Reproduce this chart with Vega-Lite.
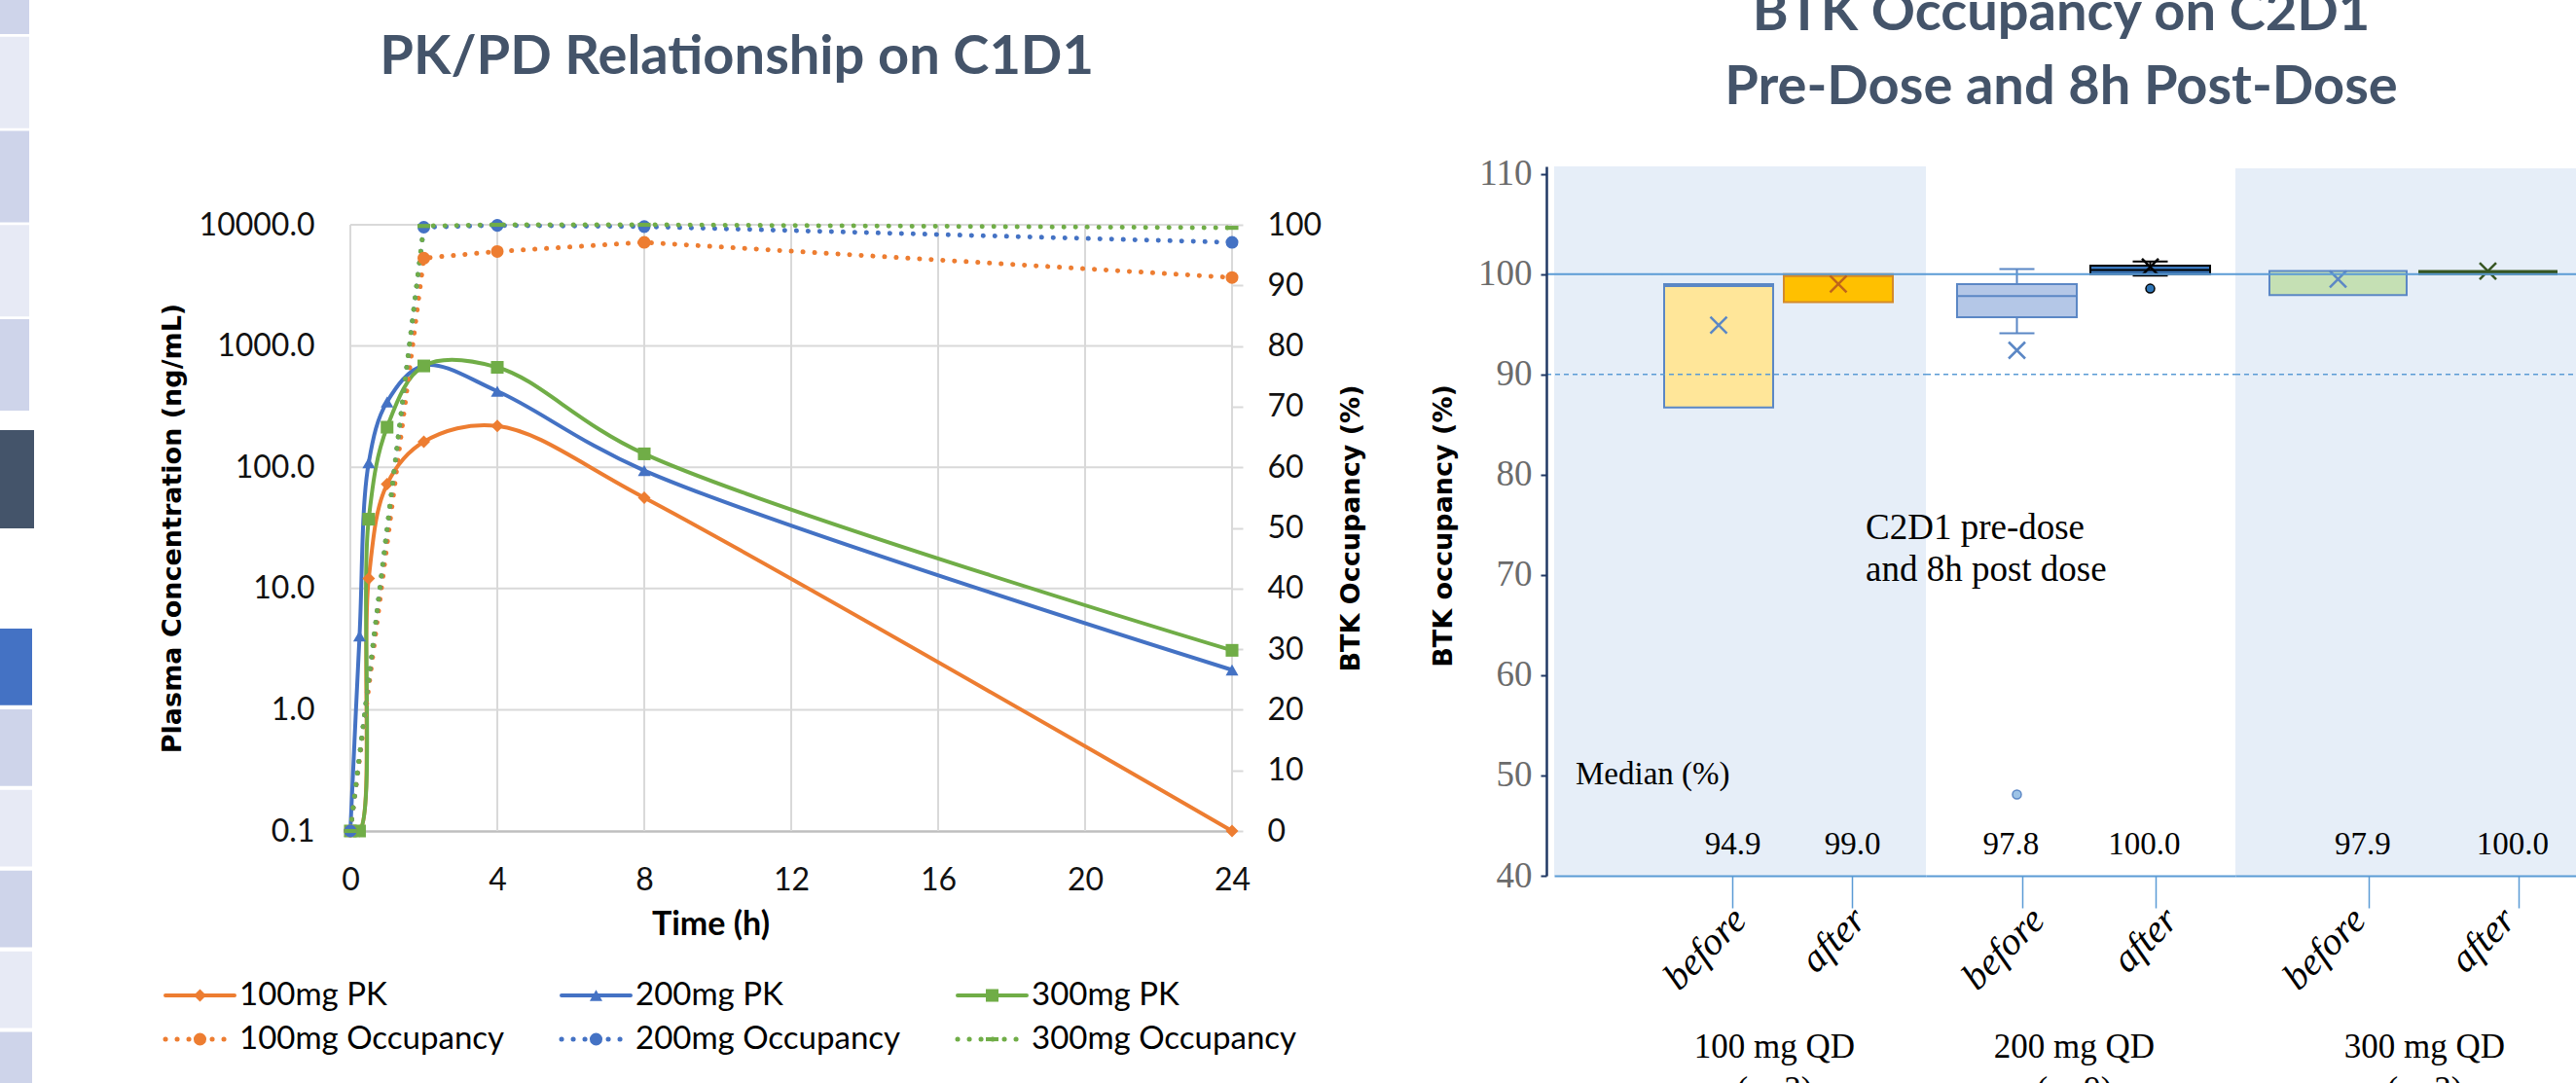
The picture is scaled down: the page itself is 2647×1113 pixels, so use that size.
{
  "$schema": "https://vega.github.io/schema/vega-lite/v6.json",
  "width": 2647,
  "height": 1113,
  "autosize": {"type": "none"},
  "padding": 0,
  "background": "#ffffff",
  "config": {"view": {"stroke": null}, "axis": {"grid": false}},
  "datasets": {
    "pk": [
      {"series": "100mg PK", "dose": "100mg", "t": 0, "conc": 0.1},
      {"series": "100mg PK", "dose": "100mg", "t": 0.25, "conc": 0.1},
      {"series": "100mg PK", "dose": "100mg", "t": 0.5, "conc": 12.1},
      {"series": "100mg PK", "dose": "100mg", "t": 1, "conc": 72.6},
      {"series": "100mg PK", "dose": "100mg", "t": 2, "conc": 162},
      {"series": "100mg PK", "dose": "100mg", "t": 4, "conc": 219},
      {"series": "100mg PK", "dose": "100mg", "t": 8, "conc": 56.1},
      {"series": "100mg PK", "dose": "100mg", "t": 24, "conc": 0.1},
      {"series": "200mg PK", "dose": "200mg", "t": 0, "conc": 0.1},
      {"series": "200mg PK", "dose": "200mg", "t": 0.25, "conc": 4.06},
      {"series": "200mg PK", "dose": "200mg", "t": 0.5, "conc": 109},
      {"series": "200mg PK", "dose": "200mg", "t": 1, "conc": 346},
      {"series": "200mg PK", "dose": "200mg", "t": 2, "conc": 690},
      {"series": "200mg PK", "dose": "200mg", "t": 4, "conc": 424},
      {"series": "200mg PK", "dose": "200mg", "t": 8, "conc": 94},
      {"series": "200mg PK", "dose": "200mg", "t": 24, "conc": 2.13},
      {"series": "300mg PK", "dose": "300mg", "t": 0, "conc": 0.1},
      {"series": "300mg PK", "dose": "300mg", "t": 0.25, "conc": 0.1},
      {"series": "300mg PK", "dose": "300mg", "t": 0.5, "conc": 37.3},
      {"series": "300mg PK", "dose": "300mg", "t": 1, "conc": 214},
      {"series": "300mg PK", "dose": "300mg", "t": 2, "conc": 685},
      {"series": "300mg PK", "dose": "300mg", "t": 4, "conc": 667},
      {"series": "300mg PK", "dose": "300mg", "t": 8, "conc": 129},
      {"series": "300mg PK", "dose": "300mg", "t": 24, "conc": 3.09}
    ],
    "occ": [
      {"series": "100mg Occupancy", "dose": "100mg", "t": 0, "occ": 0},
      {"series": "100mg Occupancy", "dose": "100mg", "t": 2, "occ": 94.5},
      {"series": "100mg Occupancy", "dose": "100mg", "t": 4, "occ": 95.6},
      {"series": "100mg Occupancy", "dose": "100mg", "t": 8, "occ": 97.1},
      {"series": "100mg Occupancy", "dose": "100mg", "t": 24, "occ": 91.3},
      {"series": "200mg Occupancy", "dose": "200mg", "t": 0, "occ": 0},
      {"series": "200mg Occupancy", "dose": "200mg", "t": 2, "occ": 99.6},
      {"series": "200mg Occupancy", "dose": "200mg", "t": 4, "occ": 99.9},
      {"series": "200mg Occupancy", "dose": "200mg", "t": 8, "occ": 99.7},
      {"series": "200mg Occupancy", "dose": "200mg", "t": 24, "occ": 97.1},
      {"series": "300mg Occupancy", "dose": "300mg", "t": 0, "occ": 0},
      {"series": "300mg Occupancy", "dose": "300mg", "t": 2, "occ": 99.8},
      {"series": "300mg Occupancy", "dose": "300mg", "t": 4, "occ": 100},
      {"series": "300mg Occupancy", "dose": "300mg", "t": 8, "occ": 100},
      {"series": "300mg Occupancy", "dose": "300mg", "t": 24, "occ": 99.5}
    ],
    "series": [
      {"series": "100mg PK", "dose": "100mg", "kind": "PK"},
      {"series": "200mg PK", "dose": "200mg", "kind": "PK"},
      {"series": "300mg PK", "dose": "300mg", "kind": "PK"},
      {"series": "100mg Occupancy", "dose": "100mg", "kind": "Occupancy"},
      {"series": "200mg Occupancy", "dose": "200mg", "kind": "Occupancy"},
      {"series": "300mg Occupancy", "dose": "300mg", "kind": "Occupancy"}
    ],
    "boxes": [
      {"dose": "100 mg QD", "when": "before", "q1": 86.7, "q3": 99.0, "midline": 98.8, "mean": 94.9, "median": 94.9, "lo": null, "hi": null, "outlier": null},
      {"dose": "100 mg QD", "when": "after", "q1": 97.2, "q3": 100.0, "midline": 99.8, "mean": 99.0, "median": 99.0, "lo": null, "hi": null, "outlier": null},
      {"dose": "200 mg QD", "when": "before", "q1": 95.7, "q3": 99.0, "midline": 97.8, "mean": 92.4, "median": 97.8, "lo": 94.1, "hi": 100.5, "outlier": 48.1},
      {"dose": "200 mg QD", "when": "after", "q1": 100.0, "q3": 100.85, "midline": 100.4, "mean": 100.7, "median": 100.0, "lo": 99.85, "hi": 101.25, "outlier": 98.55},
      {"dose": "300 mg QD", "when": "before", "q1": 97.9, "q3": 100.3, "midline": null, "mean": 99.5, "median": 97.9, "lo": null, "hi": null, "outlier": null},
      {"dose": "300 mg QD", "when": "after", "q1": 100.0, "q3": 100.3, "midline": null, "mean": 100.3, "median": 100.0, "lo": null, "hi": null, "outlier": null}
    ]
  },
  "layer": [
    {
      "data": {"values": [{"slide": 1}, {"slide": 2}, {"slide": 3}, {"slide": 4}, {"slide": 5}]},
      "mark": {"type": "rect"},
      "encoding": {
        "x": {"datum": "thumbnail", "type": "nominal", "scale": {"type": "band", "domain": ["thumbnail"], "range": [0, 30], "paddingInner": 0, "paddingOuter": 0}, "axis": null},
        "y": {"field": "slide", "type": "ordinal", "scale": {"type": "band", "domain": [1, 2, 3, 4, 5], "range": [-59, 422], "paddingInner": 0.03, "paddingOuter": 0}, "axis": null},
        "fill": {"condition": {"test": "datum.slide % 2 === 1", "value": "#CED4EA"}, "value": "#E7EAF5"}
      }
    },
    {
      "data": {"values": [{"slide": 6}]},
      "mark": {"type": "rect", "color": "#44546A"},
      "encoding": {
        "x": {"datum": "thumbnail", "type": "nominal", "scale": {"type": "band", "domain": ["thumbnail"], "range": [0, 35], "paddingInner": 0, "paddingOuter": 0}, "axis": null},
        "y": {"field": "slide", "type": "ordinal", "scale": {"type": "band", "domain": [6], "range": [442, 543], "paddingInner": 0, "paddingOuter": 0}, "axis": null}
      }
    },
    {
      "data": {"values": [{"slide": 7}, {"slide": 8}, {"slide": 9}, {"slide": 10}, {"slide": 11}, {"slide": 12}]},
      "mark": {"type": "rect"},
      "encoding": {
        "x": {"datum": "thumbnail", "type": "nominal", "scale": {"type": "band", "domain": ["thumbnail"], "range": [0, 33], "paddingInner": 0, "paddingOuter": 0}, "axis": null},
        "y": {"field": "slide", "type": "ordinal", "scale": {"type": "band", "domain": [7, 8, 9, 10, 11, 12], "range": [646, 1139.3], "paddingInner": 0.05, "paddingOuter": 0}, "axis": null},
        "fill": {"condition": [{"test": "datum.slide === 7", "value": "#4472C4"}, {"test": "datum.slide % 2 === 0", "value": "#CED4EA"}], "value": "#E7EAF5"}
      }
    },
    {
      "data": {"values": [{"v": 1}, {"v": 10}, {"v": 100}, {"v": 1000}, {"v": 10000}]},
      "mark": {"type": "rule", "color": "#D9D9D9", "strokeWidth": 2},
      "encoding": {
        "x": {"datum": 0, "type": "quantitative", "scale": {"domain": [0, 24], "range": [360, 1266], "nice": false, "zero": false},
          "axis": {"orient": "bottom", "offset": -259, "values": [0, 4, 8, 12, 16, 20, 24], "domain": true, "domainColor": "#BFBFBF", "domainWidth": 2.5, "ticks": false, "tickSize": 0, "labelPadding": 35, "labelFont": "Lato", "labelFontSize": 32, "labelColor": "#111111", "labelFlush": false, "labelOverlap": false, "labelBound": false, "grid": false, "title": "Time (h)", "titleFont": "Lato", "titleFontWeight": "bold", "titleFontSize": 34, "titleColor": "#000000", "titleX": 730, "titleY": 96, "titleAlign": "center", "titleBaseline": "middle"}},
        "x2": {"datum": 24},
        "y": {"field": "v", "type": "quantitative", "scale": {"type": "log", "domain": [0.1, 10000], "range": [854, 231], "nice": false},
          "axis": {"orient": "left", "offset": -360, "values": [0.1, 1, 10, 100, 1000, 10000], "format": ".1f", "domain": false, "ticks": false, "tickSize": 0, "grid": false, "labelPadding": 37, "labelFont": "Lato", "labelFontSize": 32, "labelColor": "#111111", "labelFlush": false, "labelOverlap": false, "labelBound": false, "title": "Plasma Concentration (ng/mL)", "titleFont": "DejaVu Sans", "titleFontWeight": "bold", "titleFontSize": 27, "titleColor": "#000000", "titleX": -183, "titleY": 542.5, "titleAngle": -90, "titleAlign": "center", "titleBaseline": "middle"}}
      }
    },
    {
      "data": {"values": [{"t": 0}, {"t": 4}, {"t": 8}, {"t": 12}, {"t": 16}, {"t": 20}, {"t": 24}]},
      "mark": {"type": "rule", "color": "#D9D9D9", "strokeWidth": 2},
      "encoding": {
        "x": {"field": "t", "type": "quantitative", "scale": {"domain": [0, 24], "range": [360, 1266], "nice": false, "zero": false}, "axis": null},
        "y": {"datum": 0.1, "type": "quantitative", "scale": {"type": "log", "domain": [0.1, 10000], "range": [854, 231], "nice": false}, "axis": null},
        "y2": {"datum": 10000}
      }
    },
    {
      "data": {"name": "pk"},
      "mark": {"type": "line", "interpolate": "catmull-rom", "strokeWidth": 4, "strokeJoin": "round"},
      "encoding": {
        "x": {"field": "t", "type": "quantitative", "scale": {"domain": [0, 24], "range": [360, 1266], "nice": false, "zero": false}, "axis": null},
        "y": {"field": "conc", "type": "quantitative", "scale": {"type": "log", "domain": [0.1, 10000], "range": [854, 231], "nice": false}, "axis": null},
        "color": {"field": "dose", "type": "nominal", "scale": {"domain": ["100mg", "200mg", "300mg"], "range": ["#ED7D31", "#4472C4", "#70AD47"]}, "legend": null}
      }
    },
    {
      "data": {"name": "pk"},
      "mark": {"type": "point", "filled": true, "opacity": 1},
      "encoding": {
        "x": {"field": "t", "type": "quantitative", "scale": {"domain": [0, 24], "range": [360, 1266], "nice": false, "zero": false}, "axis": null},
        "y": {"field": "conc", "type": "quantitative", "scale": {"type": "log", "domain": [0.1, 10000], "range": [854, 231], "nice": false}, "axis": null},
        "color": {"field": "dose", "type": "nominal", "scale": {"domain": ["100mg", "200mg", "300mg"], "range": ["#ED7D31", "#4472C4", "#70AD47"]}, "legend": null},
        "shape": {"field": "series", "type": "nominal", "scale": {"domain": ["100mg PK", "200mg PK", "300mg PK", "100mg Occupancy", "200mg Occupancy", "300mg Occupancy"], "range": ["diamond", "triangle-up", "square", "circle", "circle", "M-1,-0.32H1V0.32H-1Z"]}, "legend": null},
        "size": {"field": "series", "type": "nominal", "scale": {"domain": ["100mg PK", "200mg PK", "300mg PK", "100mg Occupancy", "200mg Occupancy", "300mg Occupancy"], "range": [170, 170, 170, 324, 169, 144]}, "legend": null}
      }
    },
    {
      "data": {"values": [{}]},
      "mark": {"type": "text", "text": "PK/PD Relationship on C1D1", "font": "Lato", "fontWeight": "bold", "fontSize": 56, "color": "#44546A", "align": "center", "baseline": "alphabetic"},
      "encoding": {
        "x": {"datum": 10.52, "type": "quantitative", "scale": {"domain": [0, 24], "range": [360, 1266], "nice": false, "zero": false}, "axis": null},
        "y": {"datum": 173800, "type": "quantitative", "scale": {"type": "log", "domain": [0.1, 10000], "range": [854, 231], "nice": false}, "axis": null}
      }
    },
    {
      "data": {"name": "occ"},
      "mark": {"type": "line", "interpolate": "linear", "strokeWidth": 5, "strokeDash": [0.1, 11.9], "strokeCap": "round", "strokeJoin": "round"},
      "encoding": {
        "x": {"field": "t", "type": "quantitative", "scale": {"domain": [0, 24], "range": [360, 1266], "nice": false, "zero": false}, "axis": null},
        "y": {"field": "occ", "type": "quantitative", "scale": {"domain": [0, 100], "range": [854, 231], "nice": false, "zero": false},
          "axis": {"orient": "right", "offset": -1381, "values": [0, 10, 20, 30, 40, 50, 60, 70, 80, 90, 100], "domain": false, "ticks": true, "tickSize": 11, "tickColor": "#D9D9D9", "tickWidth": 2, "labelPadding": 25, "labelFont": "Lato", "labelFontSize": 32, "labelColor": "#111111", "labelFlush": false, "labelOverlap": false, "labelBound": false, "grid": false, "title": "BTK Occupancy (%)", "titleFont": "DejaVu Sans", "titleFontWeight": "bold", "titleFontSize": 27, "titleColor": "#000000", "titleX": 122, "titleY": 542.5, "titleAngle": -90, "titleAlign": "center", "titleBaseline": "middle"}},
        "color": {"field": "dose", "type": "nominal", "scale": {"domain": ["100mg", "200mg", "300mg"], "range": ["#ED7D31", "#4472C4", "#70AD47"]}, "legend": null}
      }
    },
    {
      "data": {"name": "occ"},
      "mark": {"type": "point", "filled": true, "opacity": 1},
      "encoding": {
        "x": {"field": "t", "type": "quantitative", "scale": {"domain": [0, 24], "range": [360, 1266], "nice": false, "zero": false}, "axis": null},
        "y": {"field": "occ", "type": "quantitative", "scale": {"domain": [0, 100], "range": [854, 231], "nice": false, "zero": false}, "axis": null},
        "color": {"field": "dose", "type": "nominal", "scale": {"domain": ["100mg", "200mg", "300mg"], "range": ["#ED7D31", "#4472C4", "#70AD47"]}, "legend": null},
        "shape": {"field": "series", "type": "nominal", "scale": {"domain": ["100mg PK", "200mg PK", "300mg PK", "100mg Occupancy", "200mg Occupancy", "300mg Occupancy"], "range": ["diamond", "triangle-up", "square", "circle", "circle", "M-1,-0.32H1V0.32H-1Z"]}, "legend": null},
        "size": {"field": "series", "type": "nominal", "scale": {"domain": ["100mg PK", "200mg PK", "300mg PK", "100mg Occupancy", "200mg Occupancy", "300mg Occupancy"], "range": [170, 170, 170, 324, 169, 144]}, "legend": null}
      }
    },
    {
      "data": {"name": "series"},
      "mark": {"type": "rule", "x2Offset": 71, "strokeCap": "round"},
      "encoding": {
        "x": {"field": "dose", "type": "nominal", "scale": {"type": "point", "domain": ["100mg", "200mg", "300mg"], "range": [170, 984], "padding": 0}, "axis": null},
        "x2": {"field": "dose"},
        "y": {"field": "kind", "type": "nominal", "scale": {"type": "point", "domain": ["PK", "Occupancy"], "range": [1023, 1068], "padding": 0}, "axis": null},
        "color": {"field": "dose", "type": "nominal", "scale": {"domain": ["100mg", "200mg", "300mg"], "range": ["#ED7D31", "#4472C4", "#70AD47"]}, "legend": null},
        "strokeWidth": {"condition": {"test": "datum.kind === 'Occupancy'", "value": 5}, "value": 4},
        "strokeDash": {"condition": {"test": "datum.kind === 'Occupancy'", "value": [0.1, 11.9]}, "value": [1, 0]}
      }
    },
    {
      "data": {"name": "series"},
      "mark": {"type": "point", "filled": true, "opacity": 1, "xOffset": 35.5},
      "encoding": {
        "x": {"field": "dose", "type": "nominal", "scale": {"type": "point", "domain": ["100mg", "200mg", "300mg"], "range": [170, 984], "padding": 0}, "axis": null},
        "y": {"field": "kind", "type": "nominal", "scale": {"type": "point", "domain": ["PK", "Occupancy"], "range": [1023, 1068], "padding": 0}, "axis": null},
        "color": {"field": "dose", "type": "nominal", "scale": {"domain": ["100mg", "200mg", "300mg"], "range": ["#ED7D31", "#4472C4", "#70AD47"]}, "legend": null},
        "shape": {"field": "series", "type": "nominal", "scale": {"domain": ["100mg PK", "200mg PK", "300mg PK", "100mg Occupancy", "200mg Occupancy", "300mg Occupancy"], "range": ["diamond", "triangle-up", "square", "circle", "circle", "M-1,-0.32H1V0.32H-1Z"]}, "legend": null},
        "size": {"field": "series", "type": "nominal", "scale": {"domain": ["100mg PK", "200mg PK", "300mg PK", "100mg Occupancy", "200mg Occupancy", "300mg Occupancy"], "range": [170, 170, 170, 324, 169, 144]}, "legend": null}
      }
    },
    {
      "data": {"name": "series"},
      "mark": {"type": "text", "align": "left", "baseline": "middle", "dx": 76, "font": "Lato", "fontSize": 33, "color": "#000000"},
      "encoding": {
        "x": {"field": "dose", "type": "nominal", "scale": {"type": "point", "domain": ["100mg", "200mg", "300mg"], "range": [170, 984], "padding": 0}, "axis": null},
        "y": {"field": "kind", "type": "nominal", "scale": {"type": "point", "domain": ["PK", "Occupancy"], "range": [1023, 1068], "padding": 0}, "axis": null},
        "text": {"field": "series", "type": "nominal"}
      }
    },
    {
      "data": {"values": [{}]},
      "mark": {"type": "rect", "color": "#E6EEF8"},
      "encoding": {
        "x": {"datum": "before", "type": "nominal", "bandPosition": -1.0089,
          "scale": {"type": "band", "domain": ["before", "after"], "range": [1597, 1979], "paddingInner": 0.0894, "paddingOuter": 0.5976, "align": 0.7687},
          "axis": {"orient": "bottom", "offset": -213, "zindex": 1, "bandPosition": 0.63, "domainColor": "#5B9BD5", "domainWidth": 2, "tickColor": "#5B9BD5", "tickSize": 33, "tickWidth": 1.5, "labelAngle": -45, "labelAlign": "right", "labelBaseline": "middle", "labelPadding": 6, "labelOffset": 22, "labelFont": "Liberation Serif", "labelFontStyle": "italic", "labelFontSize": 40, "labelColor": "#000000", "labelOverlap": false, "labelBound": false, "title": ["100 mg QD", "(n=3)"], "titleFont": "Liberation Serif", "titleFontWeight": "normal", "titleFontSize": 35, "titleColor": "#000000", "titleX": 1823, "titleY": 186, "titleAlign": "center", "titleBaseline": "alphabetic", "titleLineHeight": 44}},
        "x2": {"datum": "after", "bandPosition": 1.3036},
        "y": {"datum": 40, "type": "quantitative", "scale": {"domain": [40, 110.74], "range": [900, 171], "nice": false, "zero": false},
          "axis": {"orient": "left", "offset": -1589, "zindex": 1, "values": [40, 50, 60, 70, 80, 90, 100, 110], "domainColor": "#203864", "domainWidth": 2.5, "tickColor": "#203864", "tickSize": 6, "tickWidth": 2, "labelFont": "Liberation Serif", "labelFontSize": 37, "labelColor": "#6B6B6B", "labelPadding": 9, "labelFlush": false, "labelOverlap": false, "labelBound": false, "grid": false, "title": "BTK occupancy (%)", "titleFont": "DejaVu Sans", "titleFontWeight": "bold", "titleFontSize": 27, "titleColor": "#000000", "titleX": -106, "titleY": 540, "titleAngle": -90, "titleAlign": "center", "titleBaseline": "middle"}},
        "y2": {"datum": 110.74}
      }
    },
    {
      "data": {"values": [{}]},
      "mark": {"type": "rect", "color": "#E6EEF8"},
      "encoding": {
        "x": {"datum": "before", "type": "nominal", "bandPosition": -0.2482,
          "scale": {"type": "band", "domain": ["before", "after"], "range": [2297, 2647], "paddingInner": 0.0844, "paddingOuter": 0.1786, "align": 0.636},
          "axis": {"orient": "bottom", "offset": -213, "zindex": 1, "bandPosition": 0.73, "domainColor": "#5B9BD5", "domainWidth": 2, "tickColor": "#5B9BD5", "tickSize": 33, "tickWidth": 1.5, "labelAngle": -45, "labelAlign": "right", "labelBaseline": "middle", "labelPadding": 6, "labelOffset": 22, "labelFont": "Liberation Serif", "labelFontStyle": "italic", "labelFontSize": 40, "labelColor": "#000000", "labelOverlap": false, "labelBound": false, "title": ["300 mg QD", "(n=3)"], "titleFont": "Liberation Serif", "titleFontWeight": "normal", "titleFontSize": 35, "titleColor": "#000000", "titleX": 2491, "titleY": 186, "titleAlign": "center", "titleBaseline": "alphabetic", "titleLineHeight": 44}},
        "x2": {"datum": "after", "bandPosition": 1.3},
        "y": {"datum": 40, "type": "quantitative", "scale": {"domain": [40, 110.74], "range": [900, 171], "nice": false, "zero": false}, "axis": null},
        "y2": {"datum": 110.55}
      }
    },
    {
      "data": {"name": "boxes"},
      "transform": [{"filter": "datum.dose === '200 mg QD' && datum.lo != null"}],
      "mark": {"type": "rule", "strokeWidth": 2},
      "encoding": {
        "x": {"field": "when", "type": "nominal",
          "scale": {"type": "band", "domain": ["before", "after"], "range": [1979, 2297], "paddingInner": 0.1022, "paddingOuter": 0.2117, "align": 0.5517},
          "axis": {"orient": "bottom", "offset": -213, "zindex": 1, "bandPosition": 0.55, "domainColor": "#5B9BD5", "domainWidth": 2, "tickColor": "#5B9BD5", "tickSize": 33, "tickWidth": 1.5, "labelAngle": -45, "labelAlign": "right", "labelBaseline": "middle", "labelPadding": 6, "labelOffset": 22, "labelFont": "Liberation Serif", "labelFontStyle": "italic", "labelFontSize": 40, "labelColor": "#000000", "labelOverlap": false, "labelBound": false, "title": ["200 mg QD", "(n=9)"], "titleFont": "Liberation Serif", "titleFontWeight": "normal", "titleFontSize": 35, "titleColor": "#000000", "titleX": 2131, "titleY": 186, "titleAlign": "center", "titleBaseline": "alphabetic", "titleLineHeight": 44}},
        "y": {"field": "lo", "type": "quantitative", "scale": {"domain": [40, 110.74], "range": [900, 171], "nice": false, "zero": false}, "axis": null},
        "y2": {"field": "hi"},
        "stroke": {"condition": {"test": "datum.when === 'before'", "value": "#5B87C5"}, "value": "#000000"}
      }
    },
    {
      "data": {"name": "boxes"},
      "transform": [{"filter": "datum.dose === '100 mg QD'"}],
      "mark": {"type": "rect", "strokeWidth": 2},
      "encoding": {
        "x": {"field": "when", "type": "nominal", "scale": {"type": "band", "domain": ["before", "after"], "range": [1597, 1979], "paddingInner": 0.0894, "paddingOuter": 0.5976, "align": 0.7687}, "axis": null},
        "y": {"field": "q1", "type": "quantitative", "scale": {"domain": [40, 110.74], "range": [900, 171], "nice": false, "zero": false}, "axis": null},
        "y2": {"field": "q3"},
        "fill": {"condition": {"test": "datum.when === 'before'", "value": "#FFE699"}, "value": "#FFC000"},
        "stroke": {"condition": {"test": "datum.when === 'before'", "value": "#5B87C5"}, "value": "#D48A2A"}
      }
    },
    {
      "data": {"name": "boxes"},
      "transform": [{"filter": "datum.dose === '200 mg QD'"}],
      "mark": {"type": "rect", "strokeWidth": 2},
      "encoding": {
        "x": {"field": "when", "type": "nominal", "scale": {"type": "band", "domain": ["before", "after"], "range": [1979, 2297], "paddingInner": 0.1022, "paddingOuter": 0.2117, "align": 0.5517}, "axis": null},
        "y": {"field": "q1", "type": "quantitative", "scale": {"domain": [40, 110.74], "range": [900, 171], "nice": false, "zero": false}, "axis": null},
        "y2": {"field": "q3"},
        "fill": {"condition": {"test": "datum.when === 'before'", "value": "#B4C7E7"}, "value": "#3A78BE"},
        "stroke": {"condition": {"test": "datum.when === 'before'", "value": "#5B87C5"}, "value": "#000000"}
      }
    },
    {
      "data": {"name": "boxes"},
      "transform": [{"filter": "datum.dose === '300 mg QD'"}],
      "mark": {"type": "rect", "strokeWidth": 2},
      "encoding": {
        "x": {"field": "when", "type": "nominal", "scale": {"type": "band", "domain": ["before", "after"], "range": [2297, 2647], "paddingInner": 0.0844, "paddingOuter": 0.1786, "align": 0.636}, "axis": null},
        "y": {"field": "q1", "type": "quantitative", "scale": {"domain": [40, 110.74], "range": [900, 171], "nice": false, "zero": false}, "axis": null},
        "y2": {"field": "q3"},
        "fill": {"condition": {"test": "datum.when === 'before'", "value": "#C5E0B4"}, "value": "#375623"},
        "stroke": {"condition": {"test": "datum.when === 'before'", "value": "#5B87C5"}, "value": "#375623"}
      }
    },
    {
      "data": {"name": "boxes"},
      "transform": [{"filter": "datum.dose === '100 mg QD' && datum.midline != null"}],
      "mark": {"type": "tick", "size": 112, "thickness": 2, "opacity": 1},
      "encoding": {
        "x": {"field": "when", "type": "nominal", "scale": {"type": "band", "domain": ["before", "after"], "range": [1597, 1979], "paddingInner": 0.0894, "paddingOuter": 0.5976, "align": 0.7687}, "axis": null},
        "y": {"field": "midline", "type": "quantitative", "scale": {"domain": [40, 110.74], "range": [900, 171], "nice": false, "zero": false}, "axis": null},
        "color": {"condition": {"test": "datum.when === 'before'", "value": "#5B87C5"}, "value": "#D48A2A"}
      }
    },
    {
      "data": {"name": "boxes"},
      "transform": [{"filter": "datum.dose === '200 mg QD' && datum.midline != null"}],
      "mark": {"type": "tick", "size": 123, "thickness": 2, "opacity": 1},
      "encoding": {
        "x": {"field": "when", "type": "nominal", "scale": {"type": "band", "domain": ["before", "after"], "range": [1979, 2297], "paddingInner": 0.1022, "paddingOuter": 0.2117, "align": 0.5517}, "axis": null},
        "y": {"field": "midline", "type": "quantitative", "scale": {"domain": [40, 110.74], "range": [900, 171], "nice": false, "zero": false}, "axis": null},
        "color": {"condition": {"test": "datum.when === 'before'", "value": "#5B87C5"}, "value": "#000000"}
      }
    },
    {
      "data": {"name": "boxes"},
      "transform": [{"filter": "datum.dose === '200 mg QD' && datum.lo != null"}],
      "mark": {"type": "tick", "size": 36, "thickness": 2, "opacity": 1},
      "encoding": {
        "x": {"field": "when", "type": "nominal", "scale": {"type": "band", "domain": ["before", "after"], "range": [1979, 2297], "paddingInner": 0.1022, "paddingOuter": 0.2117, "align": 0.5517}, "axis": null},
        "y": {"field": "lo", "type": "quantitative", "scale": {"domain": [40, 110.74], "range": [900, 171], "nice": false, "zero": false}, "axis": null},
        "color": {"condition": {"test": "datum.when === 'before'", "value": "#5B87C5"}, "value": "#000000"}
      }
    },
    {
      "data": {"name": "boxes"},
      "transform": [{"filter": "datum.dose === '200 mg QD' && datum.hi != null"}],
      "mark": {"type": "tick", "size": 36, "thickness": 2, "opacity": 1},
      "encoding": {
        "x": {"field": "when", "type": "nominal", "scale": {"type": "band", "domain": ["before", "after"], "range": [1979, 2297], "paddingInner": 0.1022, "paddingOuter": 0.2117, "align": 0.5517}, "axis": null},
        "y": {"field": "hi", "type": "quantitative", "scale": {"domain": [40, 110.74], "range": [900, 171], "nice": false, "zero": false}, "axis": null},
        "color": {"condition": {"test": "datum.when === 'before'", "value": "#5B87C5"}, "value": "#000000"}
      }
    },
    {
      "data": {"name": "boxes"},
      "transform": [{"filter": "datum.dose === '100 mg QD'"}],
      "mark": {"type": "point", "shape": "M-1,-1L1,1M-1,1L1,-1", "filled": false, "size": 289, "strokeWidth": 2.5, "opacity": 1},
      "encoding": {
        "x": {"field": "when", "type": "nominal", "scale": {"type": "band", "domain": ["before", "after"], "range": [1597, 1979], "paddingInner": 0.0894, "paddingOuter": 0.5976, "align": 0.7687}, "axis": null},
        "y": {"field": "mean", "type": "quantitative", "scale": {"domain": [40, 110.74], "range": [900, 171], "nice": false, "zero": false}, "axis": null},
        "stroke": {"condition": {"test": "datum.when === 'before'", "value": "#5B87C5"}, "value": "#C0651A"}
      }
    },
    {
      "data": {"name": "boxes"},
      "transform": [{"filter": "datum.dose === '200 mg QD'"}],
      "mark": {"type": "point", "shape": "M-1,-1L1,1M-1,1L1,-1", "filled": false, "size": 289, "strokeWidth": 2.5, "opacity": 1},
      "encoding": {
        "x": {"field": "when", "type": "nominal", "scale": {"type": "band", "domain": ["before", "after"], "range": [1979, 2297], "paddingInner": 0.1022, "paddingOuter": 0.2117, "align": 0.5517}, "axis": null},
        "y": {"field": "mean", "type": "quantitative", "scale": {"domain": [40, 110.74], "range": [900, 171], "nice": false, "zero": false}, "axis": null},
        "stroke": {"condition": {"test": "datum.when === 'before'", "value": "#5B87C5"}, "value": "#000000"}
      }
    },
    {
      "data": {"name": "boxes"},
      "transform": [{"filter": "datum.dose === '300 mg QD'"}],
      "mark": {"type": "point", "shape": "M-1,-1L1,1M-1,1L1,-1", "filled": false, "size": 289, "strokeWidth": 2.5, "opacity": 1},
      "encoding": {
        "x": {"field": "when", "type": "nominal", "scale": {"type": "band", "domain": ["before", "after"], "range": [2297, 2647], "paddingInner": 0.0844, "paddingOuter": 0.1786, "align": 0.636}, "axis": null},
        "y": {"field": "mean", "type": "quantitative", "scale": {"domain": [40, 110.74], "range": [900, 171], "nice": false, "zero": false}, "axis": null},
        "stroke": {"condition": {"test": "datum.when === 'before'", "value": "#5B87C5"}, "value": "#375623"}
      }
    },
    {
      "data": {"name": "boxes"},
      "transform": [{"filter": "datum.dose === '200 mg QD' && datum.outlier != null"}],
      "mark": {"type": "point", "shape": "circle", "filled": true, "size": 81, "strokeWidth": 1.5, "opacity": 1},
      "encoding": {
        "x": {"field": "when", "type": "nominal", "scale": {"type": "band", "domain": ["before", "after"], "range": [1979, 2297], "paddingInner": 0.1022, "paddingOuter": 0.2117, "align": 0.5517}, "axis": null},
        "y": {"field": "outlier", "type": "quantitative", "scale": {"domain": [40, 110.74], "range": [900, 171], "nice": false, "zero": false}, "axis": null},
        "fill": {"condition": {"test": "datum.when === 'before'", "value": "#9DC3E6"}, "value": "#2E75B6"},
        "stroke": {"condition": {"test": "datum.when === 'before'", "value": "#5B87C5"}, "value": "#000000"}
      }
    },
    {
      "data": {"name": "boxes"},
      "transform": [{"filter": "datum.dose === '100 mg QD'"}],
      "mark": {"type": "text", "font": "Liberation Serif", "fontSize": 33, "color": "#000000", "baseline": "middle", "align": "center"},
      "encoding": {
        "x": {"field": "when", "type": "nominal", "bandPosition": 0.63, "scale": {"type": "band", "domain": ["before", "after"], "range": [1597, 1979], "paddingInner": 0.0894, "paddingOuter": 0.5976, "align": 0.7687}, "axis": null},
        "y": {"datum": 43.1, "type": "quantitative", "scale": {"domain": [40, 110.74], "range": [900, 171], "nice": false, "zero": false}, "axis": null},
        "text": {"field": "median", "type": "quantitative", "format": ".1f"}
      }
    },
    {
      "data": {"name": "boxes"},
      "transform": [{"filter": "datum.dose === '200 mg QD'"}],
      "mark": {"type": "text", "font": "Liberation Serif", "fontSize": 33, "color": "#000000", "baseline": "middle", "align": "center"},
      "encoding": {
        "x": {"field": "when", "type": "nominal", "bandPosition": 0.45, "scale": {"type": "band", "domain": ["before", "after"], "range": [1979, 2297], "paddingInner": 0.1022, "paddingOuter": 0.2117, "align": 0.5517}, "axis": null},
        "y": {"datum": 43.1, "type": "quantitative", "scale": {"domain": [40, 110.74], "range": [900, 171], "nice": false, "zero": false}, "axis": null},
        "text": {"field": "median", "type": "quantitative", "format": ".1f"}
      }
    },
    {
      "data": {"name": "boxes"},
      "transform": [{"filter": "datum.dose === '300 mg QD'"}],
      "mark": {"type": "text", "font": "Liberation Serif", "fontSize": 33, "color": "#000000", "baseline": "middle", "align": "center"},
      "encoding": {
        "x": {"field": "when", "type": "nominal", "bandPosition": 0.68, "scale": {"type": "band", "domain": ["before", "after"], "range": [2297, 2647], "paddingInner": 0.0844, "paddingOuter": 0.1786, "align": 0.636}, "axis": null},
        "y": {"datum": 43.1, "type": "quantitative", "scale": {"domain": [40, 110.74], "range": [900, 171], "nice": false, "zero": false}, "axis": null},
        "text": {"field": "median", "type": "quantitative", "format": ".1f"}
      }
    },
    {
      "data": {"values": [{"level": 100}, {"level": 90}]},
      "mark": {"type": "rule", "color": "#5B9BD5"},
      "encoding": {
        "x": {"datum": "before", "type": "nominal", "bandPosition": -1.0804, "scale": {"type": "band", "domain": ["before", "after"], "range": [1597, 1979], "paddingInner": 0.0894, "paddingOuter": 0.5976, "align": 0.7687}, "axis": null},
        "x2": {"datum": "after", "bandPosition": 1.3036},
        "y": {"field": "level", "type": "quantitative", "scale": {"domain": [40, 110.74], "range": [900, 171], "nice": false, "zero": false}, "axis": null},
        "strokeWidth": {"condition": {"test": "datum.level === 100", "value": 2}, "value": 1.5},
        "strokeDash": {"condition": {"test": "datum.level === 100", "value": [1, 0]}, "value": [5, 4]}
      }
    },
    {
      "data": {"values": [{"level": 100}, {"level": 90}]},
      "mark": {"type": "rule", "color": "#5B9BD5"},
      "encoding": {
        "x": {"datum": "before", "type": "nominal", "bandPosition": -0.2602, "scale": {"type": "band", "domain": ["before", "after"], "range": [1979, 2297], "paddingInner": 0.1022, "paddingOuter": 0.2117, "align": 0.5517}, "axis": null},
        "x2": {"datum": "after", "bandPosition": 1.2114},
        "y": {"field": "level", "type": "quantitative", "scale": {"domain": [40, 110.74], "range": [900, 171], "nice": false, "zero": false}, "axis": null},
        "strokeWidth": {"condition": {"test": "datum.level === 100", "value": 2}, "value": 1.5},
        "strokeDash": {"condition": {"test": "datum.level === 100", "value": [1, 0]}, "value": [5, 4]}
      }
    },
    {
      "data": {"values": [{"level": 100}, {"level": 90}]},
      "mark": {"type": "rule", "color": "#5B9BD5"},
      "encoding": {
        "x": {"datum": "before", "type": "nominal", "bandPosition": -0.2482, "scale": {"type": "band", "domain": ["before", "after"], "range": [2297, 2647], "paddingInner": 0.0844, "paddingOuter": 0.1786, "align": 0.636}, "axis": null},
        "x2": {"datum": "after", "bandPosition": 1.3},
        "y": {"field": "level", "type": "quantitative", "scale": {"domain": [40, 110.74], "range": [900, 171], "nice": false, "zero": false}, "axis": null},
        "strokeWidth": {"condition": {"test": "datum.level === 100", "value": 2}, "value": 1.5},
        "strokeDash": {"condition": {"test": "datum.level === 100", "value": [1, 0]}, "value": [5, 4]}
      }
    },
    {
      "data": {"values": [{}]},
      "mark": {"type": "text", "text": "Median (%)", "font": "Liberation Serif", "fontSize": 33, "color": "#000000", "align": "left", "baseline": "middle"},
      "encoding": {
        "x": {"datum": "before", "type": "nominal", "bandPosition": -0.8125, "scale": {"type": "band", "domain": ["before", "after"], "range": [1597, 1979], "paddingInner": 0.0894, "paddingOuter": 0.5976, "align": 0.7687}, "axis": null},
        "y": {"datum": 50.09, "type": "quantitative", "scale": {"domain": [40, 110.74], "range": [900, 171], "nice": false, "zero": false}, "axis": null}
      }
    },
    {
      "data": {"values": [{"line": "C2D1 pre-dose", "y": 74.64}, {"line": "and 8h post dose", "y": 70.47}]},
      "mark": {"type": "text", "font": "Liberation Serif", "fontSize": 37, "color": "#000000", "align": "left", "baseline": "middle"},
      "encoding": {
        "x": {"datum": "after", "type": "nominal", "bandPosition": 0.75, "scale": {"type": "band", "domain": ["before", "after"], "range": [1597, 1979], "paddingInner": 0.0894, "paddingOuter": 0.5976, "align": 0.7687}, "axis": null},
        "y": {"field": "y", "type": "quantitative", "scale": {"domain": [40, 110.74], "range": [900, 171], "nice": false, "zero": false}, "axis": null},
        "text": {"field": "line", "type": "nominal"}
      }
    },
    {
      "data": {"values": [{"line": "BTK Occupancy on C2D1", "y": 124.33}, {"line": "Pre-Dose and 8h Post-Dose", "y": 116.95}]},
      "mark": {"type": "text", "font": "Lato", "fontWeight": "bold", "fontSize": 56, "color": "#44546A", "align": "center", "baseline": "alphabetic"},
      "encoding": {
        "x": {"datum": "before", "type": "nominal", "bandPosition": 0.87, "scale": {"type": "band", "domain": ["before", "after"], "range": [1979, 2297], "paddingInner": 0.1022, "paddingOuter": 0.2117, "align": 0.5517}, "axis": null},
        "y": {"field": "y", "type": "quantitative", "scale": {"domain": [40, 110.74], "range": [900, 171], "nice": false, "zero": false}, "axis": null},
        "text": {"field": "line", "type": "nominal"}
      }
    }
  ],
  "resolve": {"scale": {"x": "independent", "y": "independent"}, "axis": {"x": "independent", "y": "independent"}}
}
